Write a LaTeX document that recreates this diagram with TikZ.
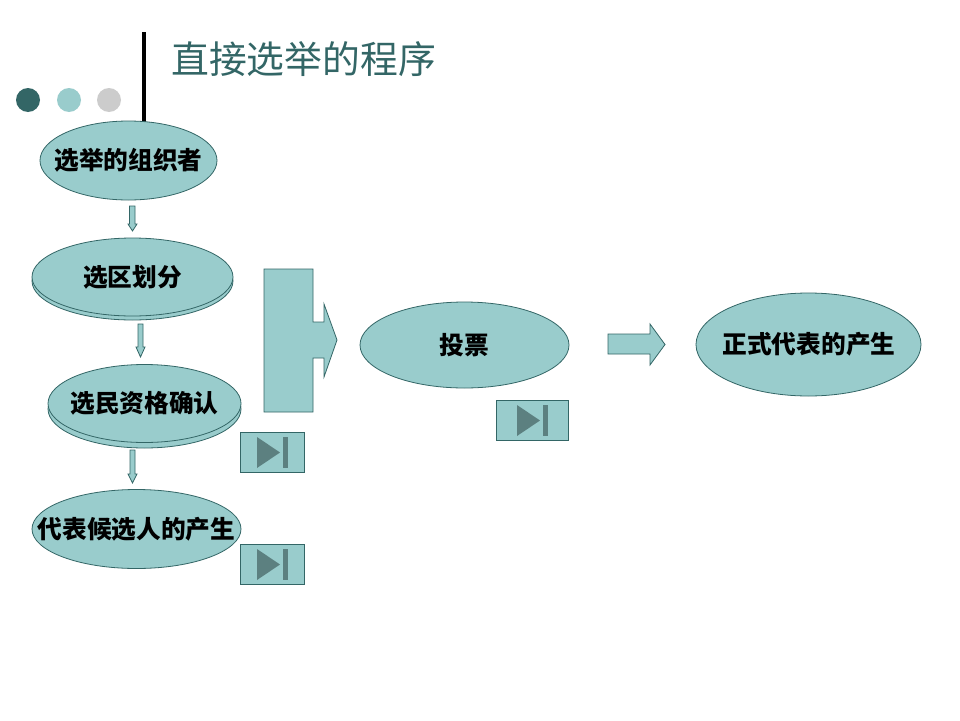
\documentclass[tikz,border=0pt]{standalone}
\usepackage{fontspec}
\usetikzlibrary{shapes.geometric}
\newfontfamily\cjk{Noto Sans CJK SC}
\newcommand{\ctext}[1]{\makebox[0pt][c]{#1}}
\definecolor{tealfill}{HTML}{99CCCC}
\definecolor{tealdark}{HTML}{336666}
\definecolor{playfill}{HTML}{5C8080}
\definecolor{greydot}{HTML}{CCCCCC}
\tikzset{
  oval/.style={ellipse,draw=tealdark,fill=tealfill,line width=0.8pt,inner sep=0pt,
    font=\cjk\bfseries\fontsize{24.7}{26}\selectfont,text=black},
  blockshape/.style={draw=tealdark,fill=tealfill,line width=0.8pt,line join=miter},
  btn/.style={rectangle,draw=tealdark,fill=tealfill,line width=0.8pt,inner sep=0pt},
  play/.style={draw=none,fill=playfill},
  dot/.style={circle,inner sep=0pt,minimum size=24pt,draw=none}
}
\begin{document}
\begin{tikzpicture}[x=1pt,y=-1pt]
\useasboundingbox (0,0) rectangle (960,720);
\fill[white] (0,0) rectangle (960,720);
% decoration
\fill[black] (142,32) rectangle (146,122);
\node[dot,fill=tealdark] (d1) at (28,100) {};
\node[dot,fill=tealfill] (d2) at (69,100) {};
\node[dot,fill=greydot] (d3) at (109,100) {};
\node[text=tealdark,font=\cjk\fontsize{37.8}{40}\selectfont,inner sep=0pt] (title) at (303.5,59.5) {直接选举的程序};
% ovals
\node[oval,minimum width=177pt,minimum height=79pt] (n1) at (128.5,160.5) {\ctext{选举的组织者}};
\node[oval,minimum width=201pt,minimum height=78pt] (n2s) at (132.5,281) {};
\node[oval,minimum width=201pt,minimum height=78pt] (n2) at (132.5,277) {\ctext{选区划分}};
\node[oval,minimum width=193pt,minimum height=78pt] (n3s) at (144.5,409) {};
\node[oval,minimum width=193pt,minimum height=78pt] (n3) at (144.5,403.5) {\ctext{选民资格确认}};
\node[oval,minimum width=209pt,minimum height=79pt] (n4) at (136.5,529) {\ctext{代表候选人的产生}};
\node[oval,minimum width=209pt,minimum height=86pt] (n5) at (464.5,345) {\ctext{投票}};
\node[oval,minimum width=225pt,minimum height=103pt] (n6) at (808.5,344.5) {\hspace{1pt}\ctext{正式代表的产生}};
% down arrows
\draw[blockshape] (129.5,206) -- (135,206) -- (135,224) -- (137,224) -- (132.5,231) -- (128,224) -- (129.5,224) -- cycle;
\draw[blockshape] (138,324) -- (143,324) -- (143,347) -- (145,347) -- (140.5,357) -- (136,347) -- (138,347) -- cycle;
\draw[blockshape] (130,450) -- (135,450) -- (135,474) -- (137,474) -- (132.5,483) -- (128,474) -- (130,474) -- cycle;
% big block arrow
\draw[blockshape] (264,269) -- (313,269) -- (313,322) -- (324,322) -- (324,304) -- (337,340) -- (324,377) -- (324,358) -- (313,358) -- (313,412) -- (264,412) -- cycle;
% right arrow
\draw[blockshape] (608,334) -- (650,334) -- (650,324) -- (665,344.5) -- (650,365) -- (650,354) -- (608,354) -- cycle;
% buttons
\node[btn,minimum width=64.5pt,minimum height=40.5pt] (b1) at (272.5,452.5) {};
\fill[play] (257,437) -- (280,452.5) -- (257,468) -- cycle;
\fill[play] (283,437) rectangle (288,468);
\node[btn,minimum width=64.5pt,minimum height=40.5pt] (b2) at (272.5,564.5) {};
\fill[play] (257,549) -- (280,564.5) -- (257,580) -- cycle;
\fill[play] (283,549) rectangle (288,580);
\node[btn,minimum width=72.5pt,minimum height=40.5pt] (b3) at (532.5,420.5) {};
\fill[play] (517,405) -- (540,420.5) -- (517,436) -- cycle;
\fill[play] (543,405) rectangle (548,436);
\end{tikzpicture}
\end{document}
